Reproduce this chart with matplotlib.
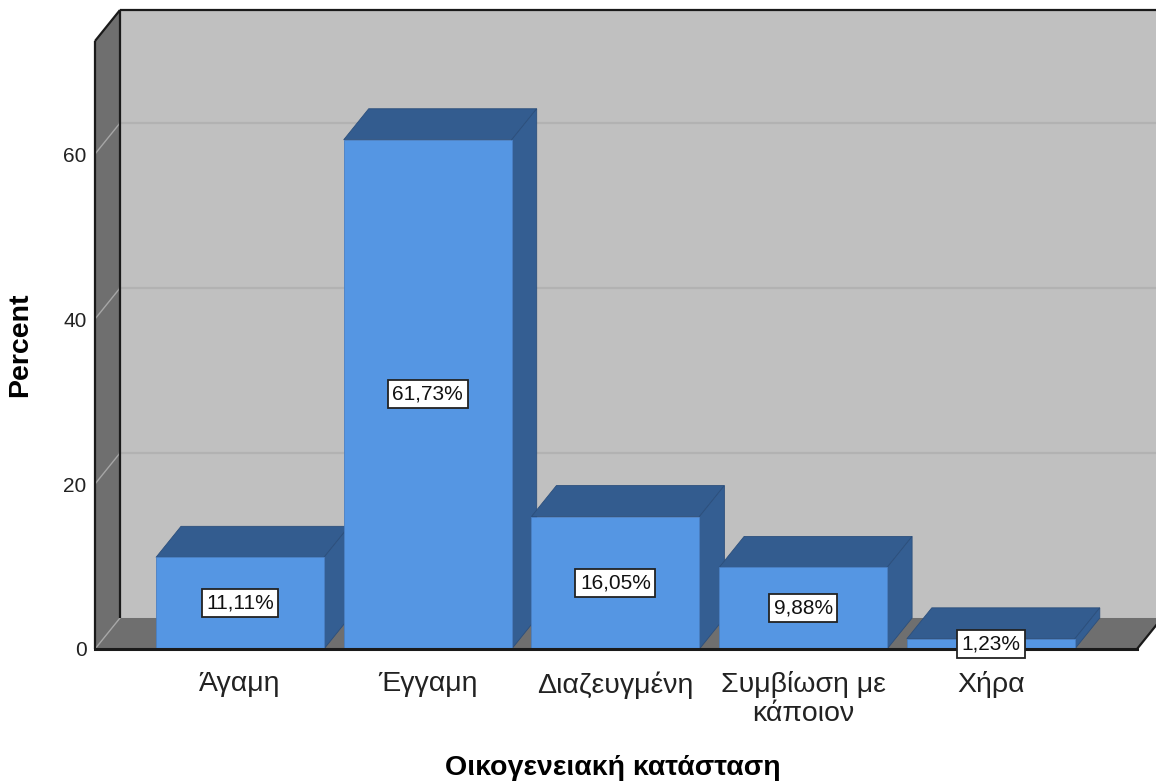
import matplotlib
matplotlib.use("Agg")
import matplotlib.pyplot as plt
from matplotlib.patches import Polygon, Rectangle

plt.rcParams['font.family'] = ['Liberation Sans', 'DejaVu Sans']

# Data
categories = ['Άγαμη', 'Έγγαμη', 'Διαζευγμένη', 'Συμβίωση με\nκάποιον', 'Χήρα']
percent = [11.11, 61.73, 16.05, 9.88, 1.23]
yticks = [0, 20, 40, 60]

# Colours
FRONT = '#5596e3'
TOP = '#335c8f'
SIDE = '#345e92'
BACK_WALL = '#c0c0c0'
SIDE_WALL = '#6f6f6f'
GRID = '#b2b2b2'

# Box geometry (data units) and pseudo-3D depth offset
X_MIN, X_MAX = -0.7725, 4.779
Z_TOP = 73.7
DX, DY = 0.1332, 3.76
BAR_W = 0.895

fig = plt.figure(figsize=(11.56, 7.83), dpi=100)
ax = fig.add_axes([95 / 1156, 1 - 649 / 783, (1156 - 95) / 1156, (649 - 10) / 783])
ax.set_xlim(X_MIN, (1156 - 240) / 187.7)
ax.set_ylim(0, Z_TOP + DY)

# Back wall
ax.add_patch(Rectangle((X_MIN + DX, DY), X_MAX - X_MIN + 1, Z_TOP, facecolor=BACK_WALL,
                       edgecolor='none', zorder=0))
# Left wall
ax.add_patch(Polygon([(X_MIN, 0), (X_MIN, Z_TOP), (X_MIN + DX, Z_TOP + DY), (X_MIN + DX, DY)],
                     closed=True, facecolor=SIDE_WALL, edgecolor='none', zorder=0.5))
# Floor
ax.add_patch(Polygon([(X_MIN, 0), (X_MAX, 0), (X_MAX + DX, DY), (X_MIN + DX, DY)],
                     closed=True, facecolor=SIDE_WALL, edgecolor='none', zorder=0.5))

# Gridlines on the back and left walls
for t in yticks[1:]:
    ax.plot([X_MIN + DX, X_MAX + 2 * DX], [t + DY, t + DY], color=GRID, lw=1.6, zorder=1)
    ax.plot([X_MIN, X_MIN + DX], [t, t + DY], color='#a6a6a6', lw=1.0, zorder=1)
ax.plot([X_MIN, X_MIN + DX], [0, DY], color='#a6a6a6', lw=1.0, zorder=1)

# Box edges
edge = dict(color='#1a1a1a', lw=1.6, zorder=2, clip_on=False, solid_capstyle='butt')
ax.plot([X_MIN, X_MIN], [0, Z_TOP], **edge)
ax.plot([X_MIN, X_MIN + DX], [Z_TOP, Z_TOP + DY], **edge)
ax.plot([X_MIN + DX, X_MIN + DX], [DY, Z_TOP + DY], **edge)
ax.plot([X_MIN + DX, X_MAX + 2 * DX], [Z_TOP + DY, Z_TOP + DY], **edge)
ax.plot([X_MAX, X_MAX + DX], [0, DY], **edge)
ax.plot([X_MIN, X_MAX], [0, 0], color='#1a1a1a', lw=2.2, zorder=6, clip_on=False)

# Bars: top and side faces first, then the front faces
xs = list(range(len(categories)))
for x, v in zip(xs, percent):
    l, r = x - BAR_W / 2, x + BAR_W / 2
    ax.add_patch(Polygon([(l, v), (r, v), (r + DX, v + DY), (l + DX, v + DY)], closed=True,
                         facecolor=TOP, edgecolor='#2c4f7c', lw=0.6, zorder=3))
    ax.add_patch(Polygon([(r, 0), (r, v), (r + DX, v + DY), (r + DX, DY)], closed=True,
                         facecolor=SIDE, edgecolor='#2c4f7c', lw=0.6, zorder=3))
ax.bar(xs, percent, width=BAR_W, color=FRONT, edgecolor='#4a80c4', linewidth=0.6, zorder=4)

# Value labels
for x, v in zip(xs, percent):
    ax.text(x, v / 2, f'{v:.2f}%'.replace('.', ','), ha='center', va='center', fontsize=15,
            color='#111111', zorder=7,
            bbox=dict(boxstyle='square,pad=0.22', facecolor='white', edgecolor='#222222', lw=1.3))

# Axes, ticks and labels
for s in ax.spines.values():
    s.set_visible(False)
ax.set_xticks(xs)
ax.set_xticklabels(categories, fontsize=20.5, color='#222222', linespacing=1.12)
ax.set_yticks(yticks)
ax.set_yticklabels([str(t) for t in yticks], fontsize=15, color='#222222')
ax.tick_params(axis='x', length=0, pad=16)
ax.tick_params(axis='y', length=0, pad=6)

ax.set_xlabel('Οικογενειακή κατάσταση', fontsize=20.5, fontweight='bold', va='center')
ax.xaxis.set_label_coords((613 - 95) / 1061, (649 - 768) / 639)
ax.set_ylabel('Percent', fontsize=20.5, fontweight='bold', va='center')
ax.yaxis.set_label_coords((20 - 95) / 1061, (649 - 345) / 639)

fig.savefig('out.png', dpi=100, facecolor='white')
